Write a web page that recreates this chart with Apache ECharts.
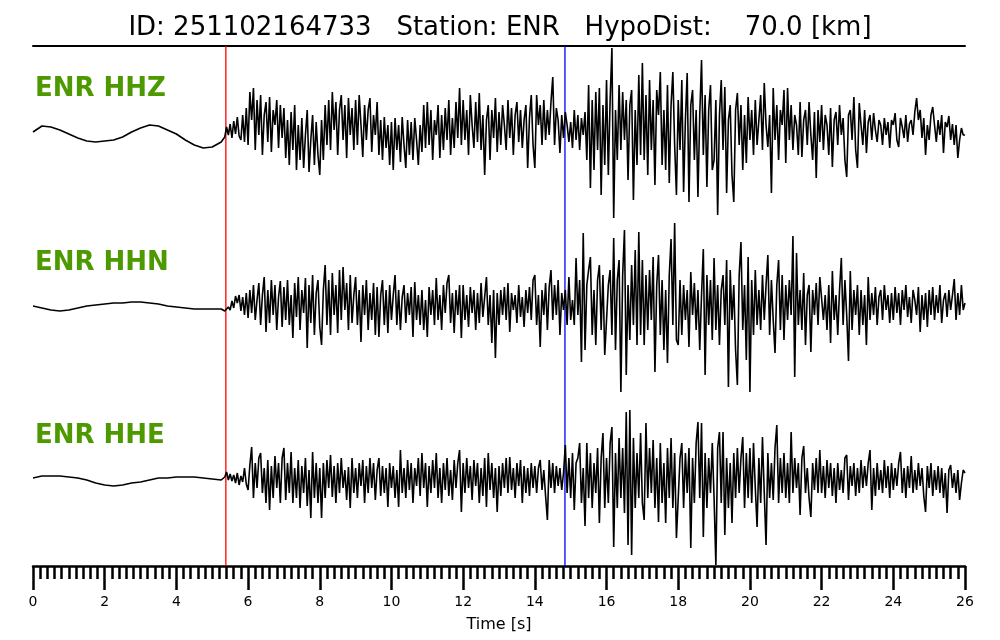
<!DOCTYPE html>
<html><head><meta charset="utf-8">
<script src="https://cdn.jsdelivr.net/npm/echarts@6/dist/echarts.min.js"></script>
<style>html,body{margin:0;padding:0;background:#fff}#c{width:1000px;height:640px}</style>
</head><body><div id="c"></div>
<script>
// ---- data ----
const titleText = 'ID: 251102164733   Station: ENR   HypoDist:    70.0 [km]';
const channels = ['ENR HHZ', 'ENR HHN', 'ENR HHE'];
const xTicks = [0, 2, 4, 6, 8, 10, 12, 14, 16, 18, 20, 22, 24, 26];
const picks = [5.38, 14.84];           // P (red), S (blue) in seconds
const preDt = 0.25;                     // pre-event samples, from t=0
const evStart = 5.3, evDt = 0.05;       // event samples

const hhzPre = [-2, 4, 3, 0, -4, -8, -11, -12, -11, -10, -7, -2, 2, 5, 4, 0, -4, -10, -15, -18, -17, -12];
const hhzEvent = [
 -10, -7, 3, -5, 6, -8, 9, -4, 13, -6, -10, 15, -12, 22,
 -15, 38, 10, 42, -20, 30, -5, 35, -25, 15, 28, -12, 33, -22, 20, 5, 30, -18, 25, -8,
 22, -28, 10, -35, 18, -20, 25, -40, 5, -30, 12, -38, -5, 20, -42, -10, 15, -35, 8, -25,
 -45, 10, -30, 25, -15, 30, -20, 38, 0, 28, -25, 20, 35, -10, 25, -28, 32, -5, 22, -20,
 30, -15, 35, 5, -27, 25, -10, 20, 32, -22, 15, -5, 28, -25, 10, -30, 13, -18, 5, -35,
 8, -40, 12, -20, 5, -32, 13, -15, -38, 10, -25, 8, -30, 12, -10, -35, 5, -22, 25, -18,
 28, -15, 20, -30, 10, -5, 25, -28, 15, -20, 22, -10, 30, -25, 12, -18, 28, -8, 42, -15,
 30, -10, 20, -25, 35, 5, -18, 28, -12, 37, -20, 15, -45, 10, 25, -30, 20, -8, 32, -22,
 18, -15, 25, 5, -20, 30, -8, 22, -25, 15, 28, -12, 20, -18, 10, 25, -38, 12, 35, -15,
 -38, 35, 5, 25, -15, 30, -10, 20, -5, 28, 53, -15, 22, 10, -23, 15, -8, 18, 5, -12,
 8, -18, 20, -10, 15, -20, 12, -5, 18, -30, 45, -58, 30, -40, 38, -20, 42, -65, 25, -35,
 50, -45, 30, 82, -88, 20, -30, 45, -20, 38, -10, 30, -50, 25, 40, -70, 20, -35, 55, -25,
 67, -30, 35, -45, 50, -20, 30, -55, 40, 15, 58, -35, 20, -40, 45, -53, 25, 58, -15, -65,
 30, -20, 50, -62, 10, 57, -72, 25, 40, -30, 20, -67, 15, 70, -25, 35, -57, 20, 45, -40,
 -30, 30, -85, 15, 50, -20, 43, -63, 10, 25, -45, -72, 20, 37, -15, 25, -40, 15, -33, 33,
 -10, 20, -25, 30, -15, 10, 35, -20, 47, 5, -17, 15, -63, 42, -10, 25, -30, 20, 5, 40,
 -33, 42, -10, 25, -20, 15, 5, -25, 28, -27, 10, 20, -15, 28, -5, -30, 18, -48, 20, -12,
 25, -20, 15, 5, -25, 22, -37, 10, 18, -15, 25, -5, 12, -30, -47, 15, 20, -10, 33, -20,
 -38, 27, 5, -15, 20, -23, 8, 15, -10, 17, 0, -12, 10, 5, -15, 12, -5, 8, -18, 10,
 5, 17, -10, -17, 12, 3, -8, 15, -12, 6, 10, -5, 18, 32, 10, 20, -8, 12, -25, 5,
 -10, 15, 23, 5, -12, 10, -5, 15, -23, 8, 3, 14, -10, 6, -15, 5, -28, -10, 2, -5,
 -5];

const hhnPre = [-1, -3, -5, -6, -5, -3, -1, 0, 1, 2, 2, 3, 3, 2, 1, -1, -2, -3, -4, -4, -4, -4];
const hhnEvent = [
 -4, -6, -8, -2, -5, 4, -3, 9, 2, 10, -6, 8, -10, 12,
 -13, 15, -8, 20, -15, 5, 22, -20, 10, 28, -27, 15, -18, 25, -10, 20, -25, 8, 24, -22,
 18, -15, 25, -20, 10, -33, 22, -12, 28, -25, 15, -8, 27, -43, 20, -18, 30, -30, 12, 25,
 -22, -40, 15, 40, -20, 25, -30, 32, -10, 20, -28, 35, -15, 38, -5, 22, -25, 30, -18, 10,
 28, -20, 15, -37, 20, -10, 25, -25, 12, -15, 22, -30, 18, -32, 10, 25, -20, 15, -28, 20,
 -15, 10, 30, -20, 15, -25, 8, 20, -18, 12, -10, 18, -32, 23, -15, 10, -20, 15, -25, 5,
 -32, 18, -10, 15, -20, 27, -15, 10, -25, 20, -8, 22, 30, -18, 12, -28, 15, -10, 20, -33,
 20, -15, 10, -22, 18, -8, 15, -25, 12, -18, 22, -12, 8, 28, -20, 10, -38, 15, -53, 12,
 -20, 15, -10, 18, -15, 22, -27, 12, -5, 10, -18, 20, -12, 8, -22, 15, -8, 18, -15, 25,
 30, -20, 10, -42, 15, -10, 22, -25, 18, 35, -15, 20, -10, 25, -30, 12, -5, 15, -20, 28,
 -15, 5, -20, 47, -10, 25, -57, 72, -45, 20, 35, 48, -30, 15, -40, 25, 40, -25, 30, -50,
 -50, 20, 35, -30, 67, -45, 25, 45, -87, 30, 75, -70, 20, -35, 40, -20, 55, -40, 73, -30,
 45, -40, 30, -25, 35, -15, 48, -67, 20, 50, -30, 25, -45, 15, -58, 30, 66, -20, 82, -35,
 -40, 25, -30, 20, -15, 15, -42, 33, -10, 22, -25, 15, -45, 10, 56, -70, 30, -20, 25, -35,
 47, -25, 20, -40, 15, 30, -20, 45, -82, 35, -15, 20, -45, -80, 30, 63, -25, 20, -55, 48,
 -87, 25, -30, 35, -20, 15, -25, 30, -15, 20, 50, -30, 25, -15, -48, 20, 45, -25, 30, -35,
 20, -15, 25, -10, 69, -72, 52, -20, 15, -25, 32, -40, 10, 20, -47, 15, -10, 22, -20, 28,
 29, -15, 10, -25, 20, -38, 34, -15, 10, -30, 15, 47, -20, 25, -10, -56, 34, -25, 15, -10,
 20, -30, 15, -20, 10, -40, 28, -15, 12, -10, 18, -20, 8, 15, -15, 20, -5, 10, -18, 12,
 -15, 18, -8, 12, -20, 15, -5, 20, -12, 8, -18, 15, 5, -10, 18, -27, 10, -15, 12, -22,
 15, -10, 18, -15, 10, -8, 20, -18, 5, 12, -12, 15, -5, 10, 26, -15, 12, -10, 20, -5,
 2];

const hhePre = [0, 2, 2, 2, 1, 0, -2, -5, -7, -8, -7, -5, -4, -2, 0, 0, 1, 1, 1, 0, -1, -2];
const hheEvent = [
 -2, 1, 6, -2, 4, -3, 3, -5, 5, -7, 2, -4, 10, -6,
 -12, 13, 31, -20, 15, -10, 20, 25, -15, 10, -25, 18, -32, 12, -20, 22, -10, 15, -25, 20,
 30, -22, 15, -15, 26, -25, 10, -20, 18, -30, 12, -15, 20, -28, 8, -40, 26, -20, 15, -25,
 10, -40, 15, -20, 18, -10, 23, -19, 12, -25, 15, -15, 20, -10, 8, -22, 11, -30, 20, -15,
 10, -20, 15, -8, 18, -25, 12, -15, 20, -10, 15, -22, 8, 20, -18, 12, -15, 10, -29, 15,
 -10, 12, -20, 8, -29, 28, -15, 10, -20, 18, -12, 15, -25, 10, -8, 20, -18, 25, -10, 15,
 -29, 12, -15, 18, -10, 25, -20, 10, -25, 15, -12, 20, -18, 8, -22, 18, -10, 15, 28, -34,
 15, -15, 20, -10, 12, -22, 18, -8, 15, -25, 10, -18, 20, -29, 25, -12, 15, -20, 10, -34,
 12, -18, 15, -10, 20, -15, 21, -12, 10, -20, 15, -8, 18, -25, 12, -15, 10, -18, 15, -10,
 12, -15, 10, 18, -12, 8, -18, -42, 18, -10, 15, -15, 12, -8, 10, -12, 5, 33, -15, 20,
 -20, 25, -32, 15, 20, 35, -25, 10, -48, 35, -20, 25, -30, 15, -15, 30, -45, 20, 45, -30,
 20, -25, 35, 51, -69, 25, -30, 40, -20, 30, -35, 66, -67, 68, -77, 40, -30, 25, -20, 45,
 -25, -42, 55, -20, 30, -15, 38, -30, 20, -44, 35, -25, 15, -45, 30, -20, 40, -30, 25, -60,
 -60, 20, 35, -30, 25, -15, 30, -70, 20, -25, 35, 56, -20, 55, -59, 25, -30, 20, -15, 35,
 -20, -87, 30, 46, -25, 46, -57, 20, -30, 15, -45, 25, -20, 30, -15, 20, 41, -30, 25, -20,
 30, -25, 35, -10, -49, 20, -25, 41, -15, -67, 25, -20, 15, -22, 30, 53, -25, 20, -15, 25,
 -20, 15, -25, 46, -15, 20, -10, 15, -37, 20, 32, -15, 10, -20, -39, 15, -12, 20, -15, 28,
 -15, 12, -20, 18, -10, 15, -18, 10, -25, 15, -12, 8, -15, 20, 23, -22, 12, -8, 15, -18,
 10, -15, 18, -10, 12, -8, 15, 28, -32, 10, -18, 15, -12, 8, -15, 18, -10, 12, -20, 15,
 -12, 10, -8, 15, 26, -15, 10, -20, 12, -10, 22, -15, 8, -12, 15, -8, 10, -18, -34, 12,
 -10, 15, -18, 8, -12, 12, -15, 10, -20, 5, -35, 8, 13, -10, 5, -15, 8, -22, -5, 8,
 5];

// ---- build ----
function trace(pre, ev) {
  const out = [];
  pre.forEach((v, i) => out.push([+(i * preDt).toFixed(3), v]));
  ev.forEach((v, i) => out.push([+(evStart + i * evDt).toFixed(3), v]));
  return out;
}
const traces = [trace(hhzPre, hhzEvent), trace(hhnPre, hhnEvent), trace(hhePre, hheEvent)];

const L = 33, R = 35;
const baselines = [130, 305, 478];
const FONT = 'DejaVu Sans';

const grid = [{left: L, right: R, top: 46, bottom: 74}];
const xAxis = [
  {gridIndex: 0, type: 'value', min: 0, max: 26, interval: 2, position: 'bottom',
   axisLine: {show: true, lineStyle: {color: '#000', width: 2.5}},
   axisTick: {show: true, length: 24, lineStyle: {color: '#000', width: 2.5}},
   minorTick: {show: true, splitNumber: 10, length: 13, lineStyle: {color: '#000', width: 2.5}},
   axisLabel: {show: true, margin: 29, color: '#000', fontSize: 14, fontFamily: FONT,
               formatter: v => xTicks.includes(v) ? String(v) : ''},
   splitLine: {show: false},
   name: 'Time [s]', nameLocation: 'middle', nameGap: 51,
   nameTextStyle: {color: '#000', fontSize: 16, fontFamily: FONT}},
  {gridIndex: 0, type: 'value', min: 0, max: 26, position: 'top',
   axisLine: {show: true, lineStyle: {color: '#000', width: 2}},
   axisTick: {show: false}, axisLabel: {show: false}, splitLine: {show: false}}
];
const yAxis = [{gridIndex: 0, type: 'value', min: 0, max: 1, show: false}];
const series = [];
const pickColors = ['#ff0000', '#0000ff'];
picks.forEach((p, k) => series.push({
  type: 'line', xAxisIndex: 0, yAxisIndex: 0, data: [[p, 0], [p, 1]],
  showSymbol: false, lineStyle: {color: pickColors[k], width: 1.3}, silent: true, z: 1
}));
traces.forEach((d, i) => {
  grid.push({left: L, right: R, top: baselines[i] - 100, height: 200});
  xAxis.push({gridIndex: i + 1, type: 'value', min: 0, max: 26, show: false});
  yAxis.push({gridIndex: i + 1, type: 'value', min: -100, max: 100, show: false});
  series.push({type: 'line', xAxisIndex: i + 2, yAxisIndex: i + 1, data: d,
    showSymbol: false, clip: false, z: 3,
    lineStyle: {color: '#000', width: 1.6}});
});

const labelTops = [90, 264, 437];
const chart = echarts.init(document.getElementById('c'), null, {renderer: 'canvas'});
chart.setOption({
  animation: false,
  backgroundColor: '#fff',
  title: {text: titleText, left: 'center', top: 10,
    textStyle: {color: '#000', fontSize: 26, fontWeight: 'normal', fontFamily: FONT}},
  grid, xAxis, yAxis, series,
  graphic: channels.map((c, i) => ({
    type: 'text', left: 35, top: labelTops[i] - 14, z: 10,
    style: {text: c, fill: '#4d9900', font: 'bold 26px "DejaVu Sans"'}
  }))
});
</script></body></html>
